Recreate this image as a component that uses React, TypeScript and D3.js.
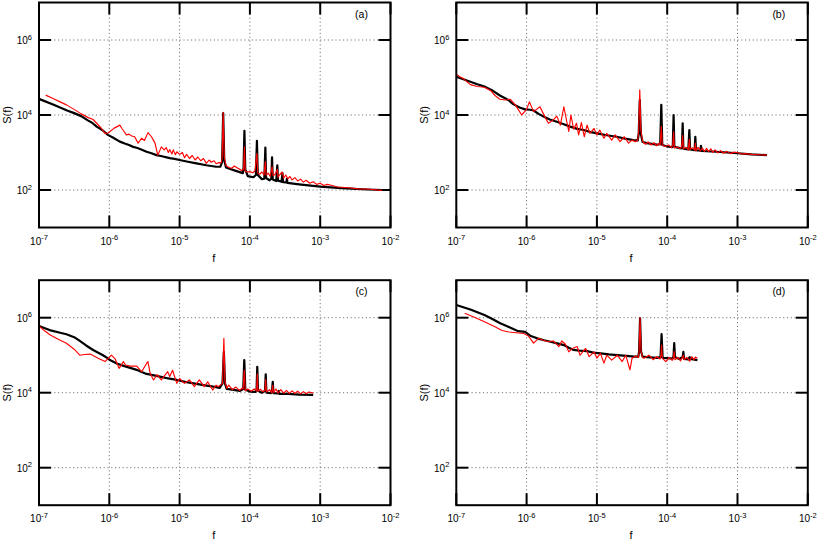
import React from "react";
import * as d3 from "d3";

// spectra, each point is [log10 f, log10 S(f)]
const blackA: [number, number][] = [
  [-7.0, 4.43], [-6.8, 4.28], [-6.6, 4.12], [-6.5, 4.05], [-6.4, 3.97], [-6.3, 3.85], [-6.25, 3.8],
  [-6.18, 3.69], [-6.1, 3.6], [-6.02, 3.47], [-5.95, 3.4], [-5.85, 3.29], [-5.78, 3.24], [-5.72, 3.2],
  [-5.66, 3.15], [-5.6, 3.12], [-5.52, 3.06], [-5.47, 3.02], [-5.4, 2.98], [-5.33, 2.93], [-5.25, 2.9],
  [-5.14, 2.85], [-5.07, 2.83], [-5.0, 2.8], [-4.9, 2.76], [-4.76, 2.71], [-4.62, 2.66], [-4.48, 2.62],
  [-4.42, 2.62], [-4.395, 2.75], [-4.38, 4.05], [-4.365, 2.8], [-4.34, 2.6], [-4.31, 2.58], [-4.2, 2.51],
  [-4.1, 2.45], [-4.09, 2.6], [-4.078, 3.58], [-4.066, 2.55], [-4.03, 2.37], [-3.95, 2.34], [-3.915, 2.4],
  [-3.9, 3.31], [-3.888, 2.4], [-3.83, 2.29], [-3.795, 2.3], [-3.78, 3.13], [-3.77, 2.32], [-3.72, 2.26],
  [-3.695, 2.3], [-3.685, 2.87], [-3.675, 2.28], [-3.625, 2.24], [-3.61, 2.66], [-3.6, 2.25], [-3.55, 2.22],
  [-3.537, 2.45], [-3.528, 2.21], [-3.48, 2.2], [-3.474, 2.3], [-3.466, 2.19], [-3.3, 2.15], [-3.0, 2.09],
  [-2.7, 2.05], [-2.4, 2.02], [-2.12, 2.0],
];

const redA: [number, number][] = [
  [-6.905, 4.53], [-6.8, 4.44], [-6.7, 4.35], [-6.61, 4.27], [-6.5, 4.15], [-6.4, 4.03], [-6.3, 3.93],
  [-6.23, 3.88], [-6.18, 3.78], [-6.12, 3.66], [-6.06, 3.51], [-6.02, 3.52], [-5.99, 3.56], [-5.93, 3.65],
  [-5.85, 3.73], [-5.82, 3.64], [-5.79, 3.56], [-5.756, 3.47], [-5.72, 3.49], [-5.68, 3.44], [-5.64, 3.42],
  [-5.59, 3.25], [-5.54, 3.38], [-5.5, 3.32], [-5.45, 3.53], [-5.4, 3.42], [-5.35, 3.25], [-5.31, 2.93],
  [-5.26, 3.15], [-5.22, 3.07], [-5.19, 3.13], [-5.16, 3.0], [-5.14, 3.08], [-5.11, 2.96], [-5.09, 3.07],
  [-5.06, 2.94], [-5.04, 3.02], [-5.0, 2.95], [-4.96, 3.0], [-4.93, 2.86], [-4.9, 2.95], [-4.86, 2.84],
  [-4.82, 2.92], [-4.78, 2.8], [-4.74, 2.88], [-4.7, 2.78], [-4.66, 2.84], [-4.62, 2.71], [-4.58, 2.8],
  [-4.55, 2.74], [-4.51, 2.78], [-4.48, 2.7], [-4.44, 2.73], [-4.41, 2.72], [-4.395, 2.85], [-4.38, 4.07],
  [-4.365, 2.9], [-4.34, 2.65], [-4.3, 2.6], [-4.26, 2.58], [-4.22, 2.64], [-4.19, 2.6], [-4.15, 2.56],
  [-4.12, 2.52], [-4.09, 2.55], [-4.078, 3.15], [-4.066, 2.5], [-4.04, 2.48], [-4.0, 2.49], [-3.96, 2.46],
  [-3.93, 2.5], [-3.9, 2.98], [-3.888, 2.45], [-3.86, 2.42], [-3.83, 2.48], [-3.8, 2.4], [-3.78, 2.76],
  [-3.77, 2.4], [-3.74, 2.45], [-3.71, 2.36], [-3.685, 2.62], [-3.67, 2.38], [-3.64, 2.42], [-3.61, 2.55],
  [-3.6, 2.34], [-3.57, 2.42], [-3.54, 2.48], [-3.52, 2.32], [-3.49, 2.4], [-3.46, 2.3], [-3.43, 2.36],
  [-3.4, 2.27], [-3.36, 2.33], [-3.32, 2.24], [-3.28, 2.29], [-3.24, 2.21], [-3.2, 2.26], [-3.15, 2.18],
  [-3.1, 2.22], [-3.05, 2.15], [-3.0, 2.18], [-2.95, 2.12], [-2.9, 2.15], [-2.83, 2.12], [-2.75, 2.08],
  [-2.6, 2.06], [-2.45, 2.03], [-2.3, 2.02], [-2.12, 1.99],
];

const blackB: [number, number][] = [
  [-7.0, 5.02], [-6.85, 4.92], [-6.7, 4.82], [-6.6, 4.76], [-6.5, 4.67], [-6.38, 4.52], [-6.26, 4.4],
  [-6.19, 4.29], [-6.1, 4.2], [-6.02, 4.15], [-5.95, 4.14], [-5.9, 4.12], [-5.83, 4.03], [-5.76, 3.96],
  [-5.67, 3.88], [-5.57, 3.82], [-5.48, 3.76], [-5.38, 3.69], [-5.28, 3.63], [-5.19, 3.6], [-5.1, 3.55],
  [-5.0, 3.51], [-4.86, 3.46], [-4.72, 3.42], [-4.6, 3.37], [-4.48, 3.33], [-4.42, 3.32], [-4.405, 3.5],
  [-4.39, 4.4], [-4.375, 3.5], [-4.35, 3.28], [-4.29, 3.25], [-4.15, 3.21], [-4.1, 3.22], [-4.084, 4.27],
  [-4.07, 3.2], [-4.0, 3.16], [-3.93, 3.14], [-3.92, 3.2], [-3.909, 4.0], [-3.898, 3.15], [-3.8, 3.11],
  [-3.79, 3.15], [-3.78, 3.78], [-3.77, 3.1], [-3.7, 3.08], [-3.685, 3.6], [-3.675, 3.08], [-3.61, 3.06],
  [-3.6, 3.42], [-3.59, 3.06], [-3.53, 3.05], [-3.52, 3.18], [-3.51, 3.04], [-3.3, 3.02], [-3.0, 2.98],
  [-2.8, 2.95], [-2.58, 2.93],
];

const redB: [number, number][] = [
  [-7.0, 5.09], [-6.95, 5.02], [-6.9, 4.97], [-6.8, 4.81], [-6.7, 4.76], [-6.6, 4.74], [-6.51, 4.65],
  [-6.45, 4.52], [-6.38, 4.42], [-6.3, 4.4], [-6.235, 4.42], [-6.16, 4.27], [-6.07, 4.0], [-6.0, 4.15],
  [-5.96, 4.35], [-5.9, 4.09], [-5.81, 4.22], [-5.74, 3.95], [-5.69, 3.78], [-5.62, 3.87], [-5.57, 3.97],
  [-5.52, 3.73], [-5.47, 4.22], [-5.43, 3.84], [-5.4, 3.56], [-5.37, 4.0], [-5.33, 3.62], [-5.29, 3.78],
  [-5.26, 3.47], [-5.22, 3.8], [-5.18, 3.42], [-5.14, 3.73], [-5.1, 3.51], [-5.04, 3.64], [-5.0, 3.47],
  [-4.96, 3.6], [-4.9, 3.38], [-4.86, 3.51], [-4.79, 3.33], [-4.74, 3.47], [-4.67, 3.29], [-4.61, 3.42],
  [-4.55, 3.25], [-4.5, 3.33], [-4.45, 3.29], [-4.42, 3.32], [-4.405, 3.6], [-4.39, 4.67], [-4.375, 3.6],
  [-4.35, 3.3], [-4.31, 3.22], [-4.27, 3.28], [-4.23, 3.2], [-4.19, 3.26], [-4.15, 3.18], [-4.12, 3.24],
  [-4.1, 3.2], [-4.084, 3.7], [-4.07, 3.2], [-4.03, 3.16], [-3.98, 3.2], [-3.94, 3.13], [-3.92, 3.2],
  [-3.909, 3.55], [-3.898, 3.12], [-3.86, 3.15], [-3.82, 3.1], [-3.795, 3.15], [-3.78, 3.45], [-3.77, 3.1],
  [-3.73, 3.14], [-3.7, 3.07], [-3.685, 3.35], [-3.675, 3.08], [-3.64, 3.13], [-3.61, 3.06], [-3.6, 3.25],
  [-3.59, 3.05], [-3.56, 3.14], [-3.53, 3.04], [-3.5, 3.12], [-3.47, 3.03], [-3.44, 3.11], [-3.41, 3.02],
  [-3.38, 3.1], [-3.35, 3.0], [-3.32, 3.07], [-3.28, 2.99], [-3.24, 3.05], [-3.2, 2.98], [-3.15, 3.03],
  [-3.1, 2.97], [-3.05, 3.01], [-3.0, 3.0], [-2.95, 2.96], [-2.9, 2.97], [-2.8, 2.95], [-2.7, 2.94],
  [-2.58, 2.93],
];

const blackC: [number, number][] = [
  [-7.0, 5.78], [-6.85, 5.67], [-6.7, 5.6], [-6.61, 5.56], [-6.5, 5.48], [-6.42, 5.38], [-6.33, 5.26],
  [-6.23, 5.14], [-6.15, 5.06], [-6.09, 5.0], [-6.03, 4.93], [-5.99, 4.87], [-5.895, 4.78], [-5.82, 4.73],
  [-5.75, 4.69], [-5.68, 4.65], [-5.61, 4.61], [-5.54, 4.55], [-5.47, 4.5], [-5.38, 4.47], [-5.28, 4.43],
  [-5.16, 4.38], [-5.04, 4.34], [-4.92, 4.29], [-4.8, 4.25], [-4.66, 4.2], [-4.52, 4.16], [-4.43, 4.13],
  [-4.39, 4.25], [-4.37, 5.09], [-4.355, 4.25], [-4.33, 4.1], [-4.28, 4.09], [-4.14, 4.05], [-4.095, 4.1],
  [-4.08, 4.87], [-4.065, 4.08], [-4.0, 4.03], [-3.92, 4.02], [-3.905, 4.1], [-3.895, 4.69], [-3.885, 4.05],
  [-3.83, 4.0], [-3.785, 4.05], [-3.775, 4.49], [-3.765, 4.0], [-3.7, 3.99], [-3.685, 4.05], [-3.675, 4.29],
  [-3.665, 3.99], [-3.6, 3.98], [-3.59, 4.05], [-3.58, 3.97], [-3.45, 3.97], [-3.3, 3.95], [-3.1, 3.94],
];

const redC: [number, number][] = [
  [-7.0, 5.78], [-6.92, 5.65], [-6.84, 5.54], [-6.72, 5.42], [-6.61, 5.32], [-6.5, 5.16], [-6.42, 5.0],
  [-6.35, 5.02], [-6.27, 5.03], [-6.16, 4.92], [-6.06, 4.83], [-5.97, 5.0], [-5.92, 4.91], [-5.86, 4.65],
  [-5.8, 4.83], [-5.77, 4.74], [-5.7, 4.71], [-5.61, 4.71], [-5.54, 4.56], [-5.47, 4.78], [-5.45, 4.83],
  [-5.42, 4.52], [-5.37, 4.34], [-5.32, 4.48], [-5.26, 4.34], [-5.17, 4.56], [-5.14, 4.43], [-5.1, 4.6],
  [-5.04, 4.25], [-5.0, 4.38], [-4.96, 4.3], [-4.93, 4.25], [-4.86, 4.34], [-4.79, 4.16], [-4.72, 4.34],
  [-4.65, 4.16], [-4.6, 4.29], [-4.53, 4.07], [-4.48, 4.2], [-4.45, 4.16], [-4.39, 4.25], [-4.37, 5.45],
  [-4.355, 4.3], [-4.33, 4.12], [-4.3, 4.2], [-4.25, 4.08], [-4.2, 4.15], [-4.15, 4.06], [-4.11, 4.12],
  [-4.095, 4.1], [-4.08, 4.6], [-4.065, 4.05], [-4.03, 4.1], [-3.98, 4.04], [-3.94, 4.1], [-3.905, 4.05],
  [-3.895, 4.5], [-3.885, 4.04], [-3.85, 4.09], [-3.81, 4.02], [-3.785, 4.07], [-3.775, 4.35], [-3.765, 4.02],
  [-3.72, 4.08], [-3.69, 4.0], [-3.675, 4.2], [-3.665, 4.0], [-3.63, 4.1], [-3.6, 3.99], [-3.56, 4.08],
  [-3.52, 3.99], [-3.48, 4.06], [-3.44, 3.98], [-3.4, 4.05], [-3.36, 3.98], [-3.32, 4.04], [-3.28, 3.97],
  [-3.24, 4.03], [-3.2, 3.97], [-3.16, 4.02], [-3.1, 3.99],
];

const blackD: [number, number][] = [
  [-7.0, 6.34], [-6.8, 6.22], [-6.6, 6.07], [-6.5, 5.98], [-6.376, 5.85], [-6.26, 5.76], [-6.12, 5.64],
  [-6.02, 5.62], [-5.95, 5.52], [-5.85, 5.45], [-5.75, 5.4], [-5.66, 5.36], [-5.55, 5.31], [-5.47, 5.27],
  [-5.4, 5.2], [-5.33, 5.14], [-5.25, 5.12], [-5.14, 5.11], [-5.05, 5.07], [-4.95, 5.05], [-4.83, 5.02],
  [-4.71, 5.0], [-4.58, 4.98], [-4.47, 4.96], [-4.41, 4.96], [-4.4, 5.1], [-4.386, 5.98], [-4.372, 5.1],
  [-4.35, 4.96], [-4.29, 4.95], [-4.15, 4.93], [-4.095, 4.95], [-4.08, 5.56], [-4.065, 4.93], [-4.0, 4.92],
  [-3.92, 4.91], [-3.91, 4.98], [-3.9, 5.32], [-3.89, 4.95], [-3.83, 4.9], [-3.78, 4.95], [-3.77, 5.09],
  [-3.76, 4.9], [-3.7, 4.89], [-3.68, 4.95], [-3.67, 4.9], [-3.57, 4.87],
];

const redD: [number, number][] = [
  [-6.88, 6.12], [-6.75, 6.02], [-6.6, 5.89], [-6.45, 5.76], [-6.35, 5.66], [-6.25, 5.62], [-6.15, 5.6],
  [-6.04, 5.58], [-5.98, 5.52], [-5.95, 5.45], [-5.9, 5.32], [-5.83, 5.45], [-5.76, 5.4], [-5.69, 5.36],
  [-5.62, 5.38], [-5.54, 5.23], [-5.5, 5.38], [-5.45, 5.3], [-5.4, 5.09], [-5.35, 5.18], [-5.28, 5.23],
  [-5.24, 5.0], [-5.16, 5.18], [-5.11, 4.96], [-5.04, 5.09], [-5.0, 4.92], [-4.95, 5.05], [-4.9, 4.79],
  [-4.86, 5.0], [-4.79, 4.87], [-4.71, 5.0], [-4.64, 4.83], [-4.59, 5.0], [-4.53, 4.61], [-4.5, 4.92],
  [-4.45, 4.98], [-4.41, 4.94], [-4.4, 5.1], [-4.386, 6.0], [-4.372, 5.1], [-4.35, 4.94], [-4.33, 4.92],
  [-4.26, 5.0], [-4.2, 4.88], [-4.15, 4.96], [-4.1, 4.9], [-4.09, 5.0], [-4.08, 5.27], [-4.07, 4.92],
  [-4.02, 4.83], [-3.97, 4.94], [-3.93, 4.86], [-3.91, 4.95], [-3.9, 5.1], [-3.89, 4.88], [-3.85, 4.94],
  [-3.81, 4.85], [-3.78, 4.96], [-3.77, 5.0], [-3.76, 4.88], [-3.72, 4.94], [-3.68, 4.84], [-3.65, 4.96],
  [-3.62, 4.88], [-3.6, 4.95], [-3.57, 4.92],
];

const panels = [
  { label: "(a)", black: blackA, red: redA, left: 39, top: 2.5 },
  { label: "(b)", black: blackB, red: redB, left: 456.3, top: 2.5 },
  { label: "(c)", black: blackC, red: redC, left: 39, top: 280.2 },
  { label: "(d)", black: blackD, red: redD, left: 456.3, top: 280.2 },
];

// decade exponents for ticks
const xTicks = [-7, -6, -5, -4, -3, -2];
const yTicks = [2, 4, 6];

const W = 351.5;
const H = 225;
const FONT = "'Liberation Sans', Arial, Helvetica, sans-serif";

const x = d3.scaleLog().domain([1e-7, 1e-2]).range([0, W]);
const y = d3.scaleLog().domain([1e1, 1e7]).range([H, 0]);

const line = d3
  .line<[number, number]>()
  .x((d) => x(Math.pow(10, d[0])))
  .y((d) => y(Math.pow(10, d[1])));

function Panel({ p }: { p: (typeof panels)[number] }) {
  const tick = 12;
  return (
    <g transform={`translate(${p.left},${p.top})`}>
      {/* grid */}
      {xTicks.slice(1, -1).map((e) => (
        <line key={"gx" + e} x1={x(10 ** e)} x2={x(10 ** e)} y1={0} y2={H}
          stroke="#777" strokeWidth={1} strokeDasharray="1.2,2.6" />
      ))}
      {yTicks.map((e) => (
        <line key={"gy" + e} x1={0} x2={W} y1={y(10 ** e)} y2={y(10 ** e)}
          stroke="#777" strokeWidth={1} strokeDasharray="1.2,2.6" />
      ))}
      {/* ticks, mirrored on all sides */}
      {xTicks.map((e) => (
        <g key={"tx" + e}>
          <line x1={x(10 ** e)} x2={x(10 ** e)} y1={H} y2={H - tick} stroke="#000" strokeWidth={2} />
          <line x1={x(10 ** e)} x2={x(10 ** e)} y1={0} y2={tick} stroke="#000" strokeWidth={2} />
          <text x={x(10 ** e)} y={H + 17} textAnchor="middle" fontSize={10} fontFamily={FONT}>
            10<tspan dy={-4.5} fontSize={7.5}>{String(e)}</tspan>
          </text>
        </g>
      ))}
      {yTicks.map((e) => (
        <g key={"ty" + e}>
          <line x1={0} x2={tick} y1={y(10 ** e)} y2={y(10 ** e)} stroke="#000" strokeWidth={2} />
          <line x1={W} x2={W - tick} y1={y(10 ** e)} y2={y(10 ** e)} stroke="#000" strokeWidth={2} />
          <text x={-7} y={y(10 ** e) + 4} textAnchor="end" fontSize={10} fontFamily={FONT}>
            10<tspan dy={-4.5} fontSize={7.5}>{String(e)}</tspan>
          </text>
        </g>
      ))}
      {/* curves */}
      <path d={line(p.black) || ""} fill="none" stroke="#000" strokeWidth={2.2} strokeLinejoin="round" />
      <path d={line(p.red) || ""} fill="none" stroke="#ff0000" strokeWidth={1.15} strokeLinejoin="round" />
      {/* frame */}
      <rect x={0} y={0} width={W} height={H} fill="none" stroke="#000" strokeWidth={2} />
      <text x={W - 29} y={15} textAnchor="middle" fontSize={10.5} fontFamily={FONT}>{p.label}</text>
      <text x={W / 2 - 1} y={H + 34} textAnchor="middle" fontSize={11} fontFamily={FONT}>f</text>
      <text transform={`translate(-28,${H / 2}) rotate(-90)`} textAnchor="middle" fontSize={11} fontFamily={FONT}>S(f)</text>
    </g>
  );
}

export default function App() {
  return (
    <svg width={817} height={541} style={{ position: "absolute", left: 0, top: 0, background: "#fff" }}>
      {panels.map((p) => (
        <Panel key={p.label} p={p} />
      ))}
    </svg>
  );
}
